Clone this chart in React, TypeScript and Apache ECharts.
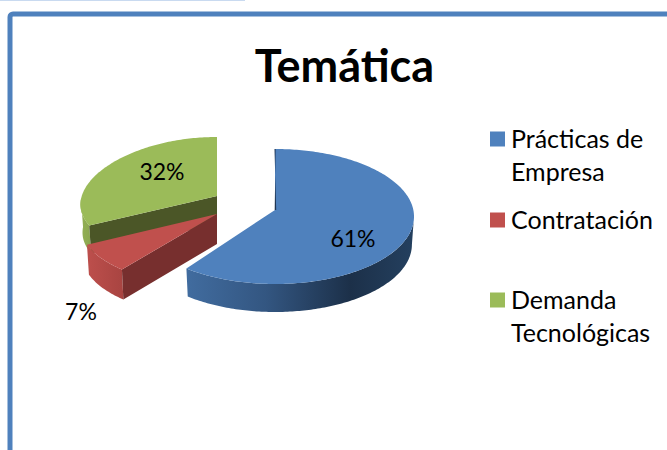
import React, { useEffect, useRef } from "react";
import * as echarts from "echarts";

const categories = ["Prácticas de\nEmpresa", "Contratación", "Demanda\nTecnológicas"];
const seriesValues = [61, 7, 32];
const percentLabels = ["61%", "7%", "32%"];
const title = "Temática";
const topColors = ["#4f81bd", "#c0504d", "#9bbb59"];
const cutColors = ["#1f3552", "#772f2e", "#4b5627"];
const sideStops: [number, string][][] = [
  [[0, "#416c9f"], [0.35, "#335681"], [0.72, "#1c3049"], [1, "#24405f"]],
  [[0, "#bd4f4c"], [1, "#a84441"]],
  [[0, "#93b055"], [1, "#8aa64f"]],
];
// apex, ellipse centre, radii, perspective, depth
const sliceGeom = [
  { ax: 275, ay: 210, cx: 275, cy: 216.5, rx: 139, ry: 67.5, k: 0, depth: 28 },
  { ax: 217, ay: 214, cx: 217, cy: 214, rx: 137, ry: 72, k: 0.115, depth: 30 },
  { ax: 217, ay: 196, cx: 217, cy: 199, rx: 136, ry: 62, k: 0.09, depth: 28 },
];
const labelPos = [[353, 238], [81, 311], [162, 171]];
const legendRows = [139, 220, 300];
const drawOrder = [2, 1, 0];
const font = "Lato, Carlito, 'Open Sans', sans-serif";

const pt = (g: any, deg: number, extra = 0, shrink = 1) => {
  const t = (deg * Math.PI) / 180;
  const c = Math.cos(t);
  const s = Math.sin(t);
  const scale = 1 - g.k * c;
  return [g.cx + s * g.rx * scale * shrink, g.cy - c * g.ry + extra];
};
const arc = (g: any, a: number, b: number, extra = 0, shrink = 1) => {
  const out: number[][] = [];
  const n = Math.max(2, Math.ceil(Math.abs(b - a)));
  for (let i = 0; i <= n; i++) out.push(pt(g, a + ((b - a) * i) / n, extra, shrink));
  return out;
};

function renderSlice(params: any, api: any) {
  const i = drawOrder[params.dataIndex];
  const total = seriesValues.reduce((a, b) => a + b, 0);
  const before = seriesValues.slice(0, i).reduce((a, b) => a + b, 0);
  const a0 = (before / total) * 360;
  const a1 = a0 + (api.value(0) / total) * 360;
  const g = sliceGeom[i];
  const children: any[] = [];
  const apex = [g.ax, g.ay];
  const apexB = [g.ax, g.ay + g.depth];
  // outer wall: only the part facing the viewer
  const vA = Math.max(a0, 90);
  const vB = Math.min(a1, 270);
  if (vB > vA) {
    children.push({
      type: "polygon",
      shape: { points: [...arc(g, vA, vB), ...arc(g, vB, vA, g.depth, 0.985)] },
      style: { fill: new echarts.graphic.LinearGradient(0, 0, 1, 0, sideStops[i].map(([offset, color]) => ({ offset, color }))) },
    });
  }
  // cut wall seen on the clockwise-start side
  if (a0 > 90 && a0 < 270) {
    const e = pt(g, a0);
    const eB = pt(g, a0, g.depth, 0.985);
    children.push({ type: "polygon", shape: { points: [apex, e, eB, apexB] }, style: { fill: cutColors[i] } });
  }
  // top face
  children.push({
    type: "polygon",
    shape: { points: [apex, ...arc(g, a0, a1)] },
    style: { fill: topColors[i] },
  });
  if (a0 < 1) {
    const e = pt(g, a0);
    children.push({
      type: "polygon",
      shape: { points: [[e[0] - 0.5, e[1]], [g.ax + 1.2, g.ay], [g.ax - 0.3, g.ay], [e[0] + 0.6, e[1]]] },
      style: { fill: cutColors[i] },
    });
  }
  children.push({
    type: "text",
    style: {
      text: percentLabels[i],
      x: labelPos[i][0],
      y: labelPos[i][1],
      align: "center",
      verticalAlign: "middle",
      font: `400 23px ${font}`,
      fill: "#000",
    },
  });
  return { type: "group", children };
}

export default function App() {
  const ref = useRef<HTMLDivElement>(null);
  useEffect(() => {
    const chart = echarts.init(ref.current!, null, { renderer: "svg" });
    const legendGraphics: any[] = [];
    categories.forEach((name, i) => {
      legendGraphics.push({
        type: "rect",
        shape: { x: 490, y: legendRows[i] - 7.5, width: 15, height: 15 },
        style: { fill: topColors[i] },
      });
      name.split("\n").forEach((line, j) => {
        legendGraphics.push({
          type: "text",
          style: {
            text: line,
            x: 511,
            y: legendRows[i] + j * 33 - 1,
            verticalAlign: "middle",
            font: `400 25px ${font}`,
            fill: "#000",
          },
        });
      });
    });
    chart.setOption({
      animation: false,
      backgroundColor: "#ffffff",
      title: {
        text: title,
        left: 339.5,
        top: 37,
        textAlign: "center",
        textStyle: { fontFamily: font, fontSize: 45, fontWeight: 700, color: "#000" },
      },
      graphic: [
        { type: "rect", z: -1, shape: { x: 0, y: 0, width: 245, height: 1 }, style: { fill: "#c9daf0" } },
        {
          type: "rect",
          z: -1,
          shape: { x: 10, y: 14, width: 800, height: 600, r: 3 },
          style: { fill: "#fff", stroke: "#4f81bd", lineWidth: 5 },
        },
        ...legendGraphics,
      ],
      series: [
        {
          type: "custom",
          coordinateSystem: "none",
          renderItem: renderSlice,
          data: drawOrder.map((i) => ({ name: categories[i], value: [seriesValues[i]] })),
          silent: true,
        },
      ],
    });
    return () => chart.dispose();
  }, []);
  return <div ref={ref} style={{ position: "absolute", left: 0, top: 0, width: 667, height: 450 }} />;
}
